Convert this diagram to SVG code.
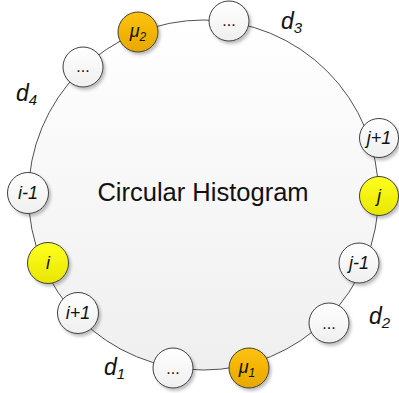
<svg xmlns="http://www.w3.org/2000/svg" width="399" height="393" viewBox="0 0 399 393">
  <defs>
    <linearGradient id="gBig" x1="0" y1="0" x2="0" y2="1">
      <stop offset="0" stop-color="#ffffff"/>
      <stop offset="1" stop-color="#efefef"/>
    </linearGradient>
    <linearGradient id="gWhite" x1="0" y1="0" x2="0" y2="1">
      <stop offset="0" stop-color="#ffffff"/>
      <stop offset="1" stop-color="#efefef"/>
    </linearGradient>
    <linearGradient id="gYellow" x1="0" y1="0" x2="0" y2="1">
      <stop offset="0" stop-color="#ffff22"/>
      <stop offset="1" stop-color="#e8e600"/>
    </linearGradient>
    <linearGradient id="gOrange" x1="0" y1="0" x2="0" y2="1">
      <stop offset="0" stop-color="#ffc20a"/>
      <stop offset="1" stop-color="#e6a800"/>
    </linearGradient>
    <filter id="sh" x="-30%" y="-30%" width="170%" height="170%">
      <feDropShadow dx="2" dy="2.5" stdDeviation="1.6" flood-color="#000" flood-opacity="0.25"/>
    </filter>
  </defs>
  <style>
    .big { fill: url(#gBig); stroke: #505050; stroke-width: 1; }
    .node circle { stroke: #404040; stroke-width: 1; filter: url(#sh); }
    .w circle { fill: url(#gWhite); }
    .y circle { fill: url(#gYellow); }
    .o circle { fill: url(#gOrange); }
    .lbl { font-family: "Liberation Sans", Arial, sans-serif; font-style: italic; font-size: 18px; fill: #111; text-anchor: middle; }
    .dots { font-family: "Liberation Sans", Arial, sans-serif; font-size: 16px; fill: #111; text-anchor: middle; }
    .d { font-family: "Liberation Sans", Arial, sans-serif; font-style: italic; font-size: 23px; fill: #111; }
    .title { font-family: "Liberation Sans", Arial, sans-serif; font-size: 25.5px; fill: #111; text-anchor: middle; }
  </style>

  <g id="connectors">
    <circle class="big" cx="203.5" cy="195" r="175"/>
  </g>

  <text class="title" x="203" y="201">Circular Histogram</text>

  <g id="n-mu2" class="node o"><circle cx="138" cy="32" r="20"/><text class="lbl" x="138" y="37">μ<tspan font-size="12" dy="4">2</tspan></text></g>
  <g id="n-dots-tl" class="node w"><circle cx="83" cy="67" r="20"/><text class="dots" x="83" y="72">...</text></g>
  <g id="n-dots-top" class="node w"><circle cx="229" cy="21" r="20"/><text class="dots" x="229" y="26">...</text></g>
  <g id="n-jp1" class="node w"><circle cx="379" cy="138" r="19.5"/><text class="lbl" x="379" y="144">j+1</text></g>
  <g id="n-j" class="node y"><circle cx="379" cy="196" r="19.5"/><text class="lbl" x="379" y="202">j</text></g>
  <g id="n-jm1" class="node w"><circle cx="359" cy="263" r="20"/><text class="lbl" x="359" y="269">j-1</text></g>
  <g id="n-dots-r" class="node w"><circle cx="329" cy="323" r="20"/><text class="dots" x="329" y="329">...</text></g>
  <g id="n-mu1" class="node o"><circle cx="249" cy="368" r="20"/><text class="lbl" x="247" y="373">μ<tspan font-size="12" dy="4">1</tspan></text></g>
  <g id="n-dots-b" class="node w"><circle cx="173" cy="368" r="20"/><text class="dots" x="173" y="374">...</text></g>
  <g id="n-ip1" class="node w"><circle cx="78" cy="313" r="20.5"/><text class="lbl" x="78" y="319">i+1</text></g>
  <g id="n-i" class="node y"><circle cx="48" cy="263" r="20.5"/><text class="lbl" x="48" y="269">i</text></g>
  <g id="n-im1" class="node w"><circle cx="28" cy="193" r="20.5"/><text class="lbl" x="28" y="199">i-1</text></g>

  <text class="d" x="16" y="101">d<tspan font-size="15" dy="4">4</tspan></text>
  <text class="d" x="281" y="29">d<tspan font-size="15" dy="4">3</tspan></text>
  <text class="d" x="369" y="324">d<tspan font-size="15" dy="4">2</tspan></text>
  <text class="d" x="104" y="375">d<tspan font-size="15" dy="4">1</tspan></text>
</svg>
